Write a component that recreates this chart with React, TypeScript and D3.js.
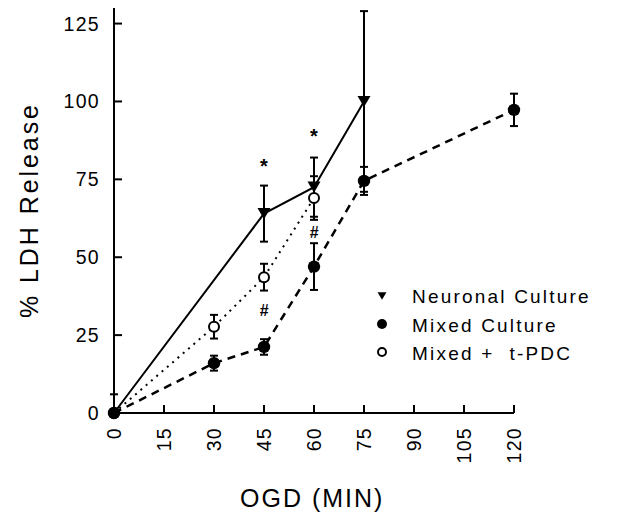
import React from "react";
import * as d3 from "d3";

const xTicks = [0, 15, 30, 45, 60, 75, 90, 105, 120];
const yTicks = [0, 25, 50, 75, 100, 125];

const neuronalX = [0, 45, 60, 75];
const neuronalY = [0, 64, 72.5, 100];
const neuronalErr = [6, 9, 9.5, 29];

const mixedX = [0, 30, 45, 60, 75, 120];
const mixedY = [0, 16, 21.2, 47, 74.5, 97.3];
const mixedErr = [0, 2.4, 2.5, 7.5, 4.5, 5.2];

const tpdcX = [0, 30, 45, 60];
const tpdcY = [0, 27.7, 43.6, 69];
const tpdcErr = [0, 3.8, 4.3, 7];

const starX = [45, 60];
const starY = [80, 89.5];
const hashX = [45, 60];
const hashY = [33, 58];

const legendLabels = ["Neuronal Culture", "Mixed Culture", "Mixed +  t-PDC"];

const FONT = "'Liberation Sans', Arial, sans-serif";

export default function App() {
  const x = d3.scaleLinear().domain([0, 120]).range([114, 514]);
  const y = d3.scaleLinear().domain([0, 130]).range([413, 8]);
  const line = (xs: number[], ys: number[]) =>
    d3.line<number>().x((_, i) => x(xs[i])).y((v) => y(v))(ys) || "";

  const errBars = (xs: number[], ys: number[], es: number[], key: string) =>
    xs.map((xv, i) => {
      if (!es[i]) return null;
      const cx = x(xv);
      const top = y(ys[i] + es[i]);
      const bot = y(Math.max(0, ys[i] - es[i]));
      const showBot = ys[i] - es[i] >= 0;
      return (
        <g key={key + i} stroke="#000" strokeWidth={2}>
          <line x1={cx} x2={cx} y1={top} y2={bot} />
          <line x1={cx - 4} x2={cx + 4} y1={top} y2={top} />
          {showBot && <line x1={cx - 4} x2={cx + 4} y1={bot} y2={bot} />}
        </g>
      );
    });

  const tri = (cx: number, cy: number, s: number) =>
    `M${cx - s},${cy - s * 0.85}L${cx + s},${cy - s * 0.85}L${cx},${cy + s * 0.85}Z`;

  return (
    <svg width={631} height={514} style={{ position: "absolute", left: 0, top: 0 }}>
      <rect width={631} height={514} fill="#fff" />
      {/* axes */}
      <g stroke="#000" strokeWidth={2} fill="none">
        <line x1={x(0)} x2={x(0)} y1={y(0)} y2={8} />
        <line x1={x(0)} x2={x(120)} y1={y(0)} y2={y(0)} />
        {yTicks.map((t) => (
          <line key={"yt" + t} x1={x(0)} x2={x(0) + 8} y1={y(t)} y2={y(t)} />
        ))}
        {xTicks.map((t) => (
          <line key={"xt" + t} x1={x(t)} x2={x(t)} y1={y(0)} y2={y(0) - 8} />
        ))}
      </g>
      <g fontFamily={FONT} fontSize={19.5} fill="#000">
        {yTicks.map((t) => (
          <text key={"yl" + t} x={100} y={y(t)} dy="0.36em" textAnchor="end" letterSpacing={1.3}>
            {t}
          </text>
        ))}
        {xTicks.map((t) => (
          <text
            key={"xl" + t}
            transform={`translate(${x(t)},427) rotate(-90)`}
            dy="0.36em"
            textAnchor="end"
            letterSpacing={1.3}
          >
            {t}
          </text>
        ))}
      </g>
      {/* lines */}
      <path d={line(neuronalX, neuronalY)} fill="none" stroke="#000" strokeWidth={2} />
      <path d={line(mixedX, mixedY)} fill="none" stroke="#000" strokeWidth={2.5} strokeDasharray="8,6" />
      <path d={line(tpdcX, tpdcY)} fill="none" stroke="#000" strokeWidth={2} strokeDasharray="2,5" />
      {/* error bars */}
      {errBars(neuronalX, neuronalY, neuronalErr, "n")}
      {errBars(mixedX, mixedY, mixedErr, "m")}
      {errBars(tpdcX, tpdcY, tpdcErr, "t")}
      {/* markers */}
      {tpdcX.map((xv, i) => (
        <circle key={"tc" + i} cx={x(xv)} cy={y(tpdcY[i])} r={5} fill="#fff" stroke="#000" strokeWidth={2} />
      ))}
      {mixedX.map((xv, i) => (
        <circle key={"mc" + i} cx={x(xv)} cy={y(mixedY[i])} r={6.2} fill="#000" />
      ))}
      {neuronalX.map((xv, i) =>
        i === 0 ? null : <path key={"nt" + i} d={tri(x(xv), y(neuronalY[i]), 6.5)} fill="#000" />
      )}
      {/* annotations */}
      <g fontFamily={FONT} fill="#000" textAnchor="middle">
        {starX.map((xv, i) => (
          <text key={"s" + i} x={x(xv)} y={y(starY[i]) + 9} fontSize={20} fontWeight="bold">
            *
          </text>
        ))}
        {hashX.map((xv, i) => (
          <text key={"h" + i} x={x(xv)} y={y(hashY[i])} dy="0.36em" fontSize={16} fontWeight="bold" fontStyle="italic">
            #
          </text>
        ))}
      </g>
      {/* legend */}
      <g fontFamily={FONT} fontSize={19} fill="#000">
        <path d={tri(382, 296, 4.5)} fill="#000" />
        <circle cx={382} cy={324} r={5} fill="#000" />
        <circle cx={382} cy={352} r={4} fill="#fff" stroke="#000" strokeWidth={2} />
        {legendLabels.map((l, i) => (
          <text
            key={"lg" + i}
            x={412}
            y={303 + i * 28.5}
            letterSpacing={2.2}
            style={{ whiteSpace: "pre" }}
          >
            {l}
          </text>
        ))}
      </g>
      {/* axis titles */}
      <text x={240} y={507} fontFamily={FONT} fontSize={25} letterSpacing={2} style={{ whiteSpace: "pre" }}>
        OGD (MIN)
      </text>
      <text
        transform="translate(38,318) rotate(-90)"
        fontFamily={FONT}
        fontSize={25}
        textLength={213}
        lengthAdjust="spacing"
        style={{ whiteSpace: "pre" }}
      >
        % LDH Release
      </text>
    </svg>
  );
}
